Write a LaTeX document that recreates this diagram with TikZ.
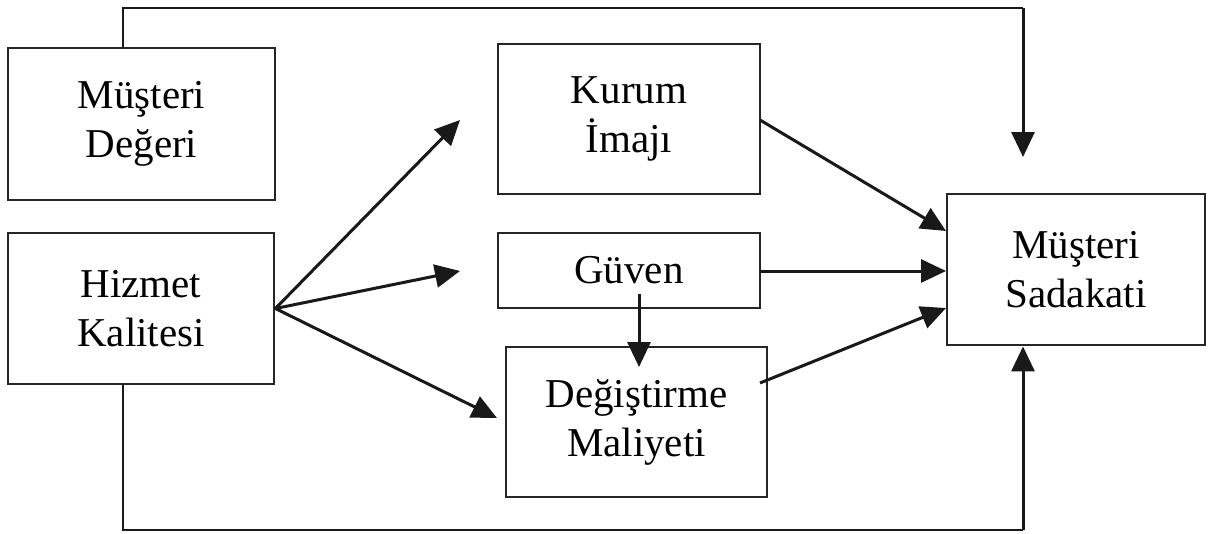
\documentclass[tikz,border=0pt]{standalone}
\usepackage{fontspec}
\setmainfont{Liberation Serif}
\usetikzlibrary{arrows.meta}
\begin{document}
\begin{tikzpicture}[x=1pt,y=-1pt,
  box/.style={draw=black!85, line width=2.8pt, rectangle, inner sep=0pt,
    align=center, font=\fontsize{41}{49}\selectfont},
  link/.style={draw=black!90, line width=3pt,
    -{Triangle[length=25pt,width=23pt]}},
  wire/.style={draw=black!90, line width=2.6pt}]
\useasboundingbox[fill=white] (0,0) rectangle (1210,533);

% factor boxes
\node[box, minimum width=267pt, minimum height=152pt] (deger)   at (141.5,124)   {Müşteri\\Değeri};
\node[box, minimum width=266pt, minimum height=151pt] (hizmet)  at (141,308.5)   {Hizmet\\Kalitesi};
\node[box, minimum width=262pt, minimum height=150pt] (kurum)   at (629,119)     {Kurum\\İmajı};
\node[box, minimum width=262pt, minimum height=75pt]  (guven)   at (629,270.5)   {Güven};
\node[box, minimum width=261pt, minimum height=150pt] (degis)   at (636.5,422)   {Değiştirme\\Maliyeti};
\node[box, minimum width=258pt, minimum height=151pt] (sadakat) at (1076,269.5)  {Müşteri\\Sadakati};

% free ends and corners
\coordinate (topL) at (123,8);
\coordinate (topR) at (1023,8);
\coordinate (topTip) at (1023,157);
\coordinate (botL) at (123,530);
\coordinate (botR) at (1023,530);
\coordinate (toKurum) at (460,120);
\coordinate (toGuven) at (460,271);
\coordinate (toDegis) at (497,418);
\coordinate (gTop) at (639,294);
\coordinate (gTip) at (639,367);
\coordinate (kOut) at (760,120);
\coordinate (gOut) at (760,271);
\coordinate (dOut) at (760,383);
\coordinate (sIn1) at (946,231);
\coordinate (sIn2) at (946,271);
\coordinate (sIn3) at (946,308);

% direct link from customer value, over the top
\draw[wire] (deger.north -| topL) -- (topL) -- (topR);
\draw[link] (topR) -- (topTip);

% direct link from service quality, along the bottom
\draw[wire] (hizmet.south -| botL) -- (botL) -- (botR);
\draw[link] (botR) -- (sadakat.south -| botR);

% service quality to the mediators
\draw[link] (hizmet.east) -- (toKurum);
\draw[link] (hizmet.east) -- (toGuven);
\draw[link] (hizmet.east) -- (toDegis);

% trust to switching cost
\draw[link] (gTop) -- (gTip);

% mediators to loyalty
\draw[link] (kOut) -- (sIn1);
\draw[link] (gOut) -- (sIn2);
\draw[link] (dOut) -- (sIn3);
\end{tikzpicture}
\end{document}
